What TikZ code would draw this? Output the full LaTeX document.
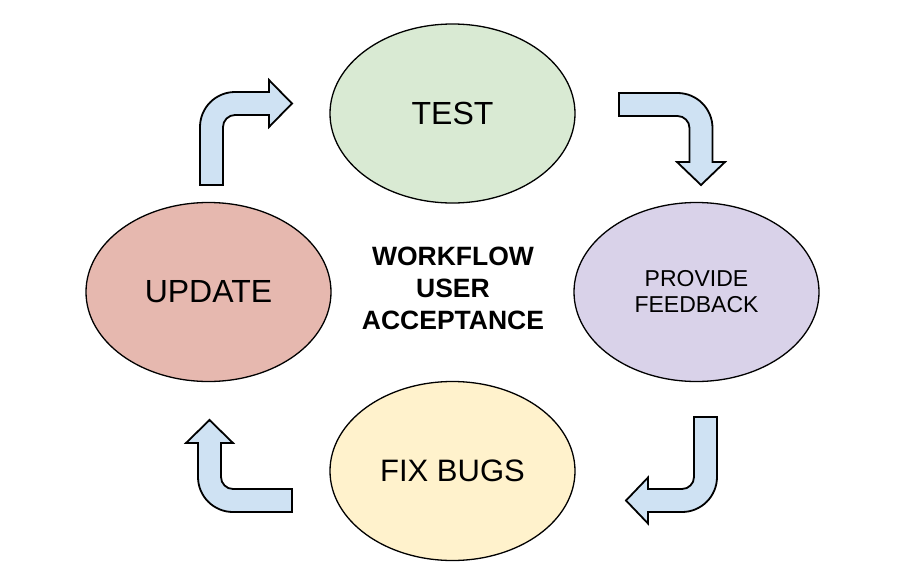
\documentclass[tikz,border=0pt]{standalone}
\usepackage{fontspec}
\setmainfont{Liberation Sans}
\usetikzlibrary{shapes.geometric}
\definecolor{testc}{HTML}{D9EAD3}
\definecolor{updc}{HTML}{E6B8AF}
\definecolor{feedc}{HTML}{D9D2E9}
\definecolor{bugc}{HTML}{FFF2CC}
\definecolor{arrc}{HTML}{CFE2F3}
\tikzset{
  stage/.style={ellipse, draw=black, line width=1.3pt, minimum width=245pt, minimum height=179pt, inner sep=0pt, align=center, text=black},
  bentarrow/.style={draw=black, fill=arrc, line width=1.8pt, line join=miter},
  bigtxt/.style={font=\fontsize{32}{36}\selectfont},
}
\begin{document}
\begin{tikzpicture}[x=1pt,y=-1pt]
\useasboundingbox (0,0) rectangle (903,584);
\node[stage, fill=testc, bigtxt] (test) at (452.5,113.5) {TEST};
\node[stage, fill=updc, bigtxt] (update) at (208.5,292) {UPDATE};
\node[stage, fill=feedc, font=\fontsize{23}{26}\selectfont] (feed) at (696.5,292) {PROVIDE\\FEEDBACK};
\node[stage, fill=bugc, font=\fontsize{31}{36}\selectfont] (bugs) at (452.5,471) {FIX BUGS};
\node[align=center, font=\bfseries\fontsize{26.5}{32}\selectfont, inner sep=0pt] (title) at (453,288) {WORKFLOW\\USER\\ACCEPTANCE};
% update -> test
\draw[bentarrow] (200,185) -- (200,127) arc[start angle=180, end angle=270, radius=35]
  -- (269,92) -- (269,80) -- (292,103.5) -- (269,127) -- (269,115) -- (235,115)
  arc[start angle=270, end angle=180, radius=12] -- (223,185) -- cycle;
% test -> feedback
\draw[bentarrow] (619,93) -- (677.5,93) arc[start angle=270, end angle=360, radius=35]
  -- (712.5,162) -- (725,162) -- (701,185) -- (677,162) -- (689.5,162) -- (689.5,128)
  arc[start angle=0, end angle=-90, radius=12] -- (619,116) -- cycle;
% feedback -> bugs
\draw[bentarrow] (694,417) -- (717,417) -- (717,477) arc[start angle=0, end angle=90, radius=35]
  -- (648,512) -- (648,523.5) -- (626,500.5) -- (648,477.5) -- (648,489) -- (682,489)
  arc[start angle=90, end angle=0, radius=12] -- cycle;
% bugs -> update
\draw[bentarrow] (292,489) -- (233,489) arc[start angle=90, end angle=180, radius=12]
  -- (221,443) -- (233,443) -- (209.5,420) -- (186,443) -- (198,443) -- (198,477)
  arc[start angle=180, end angle=90, radius=35] -- (292,512) -- cycle;
\end{tikzpicture}
\end{document}
